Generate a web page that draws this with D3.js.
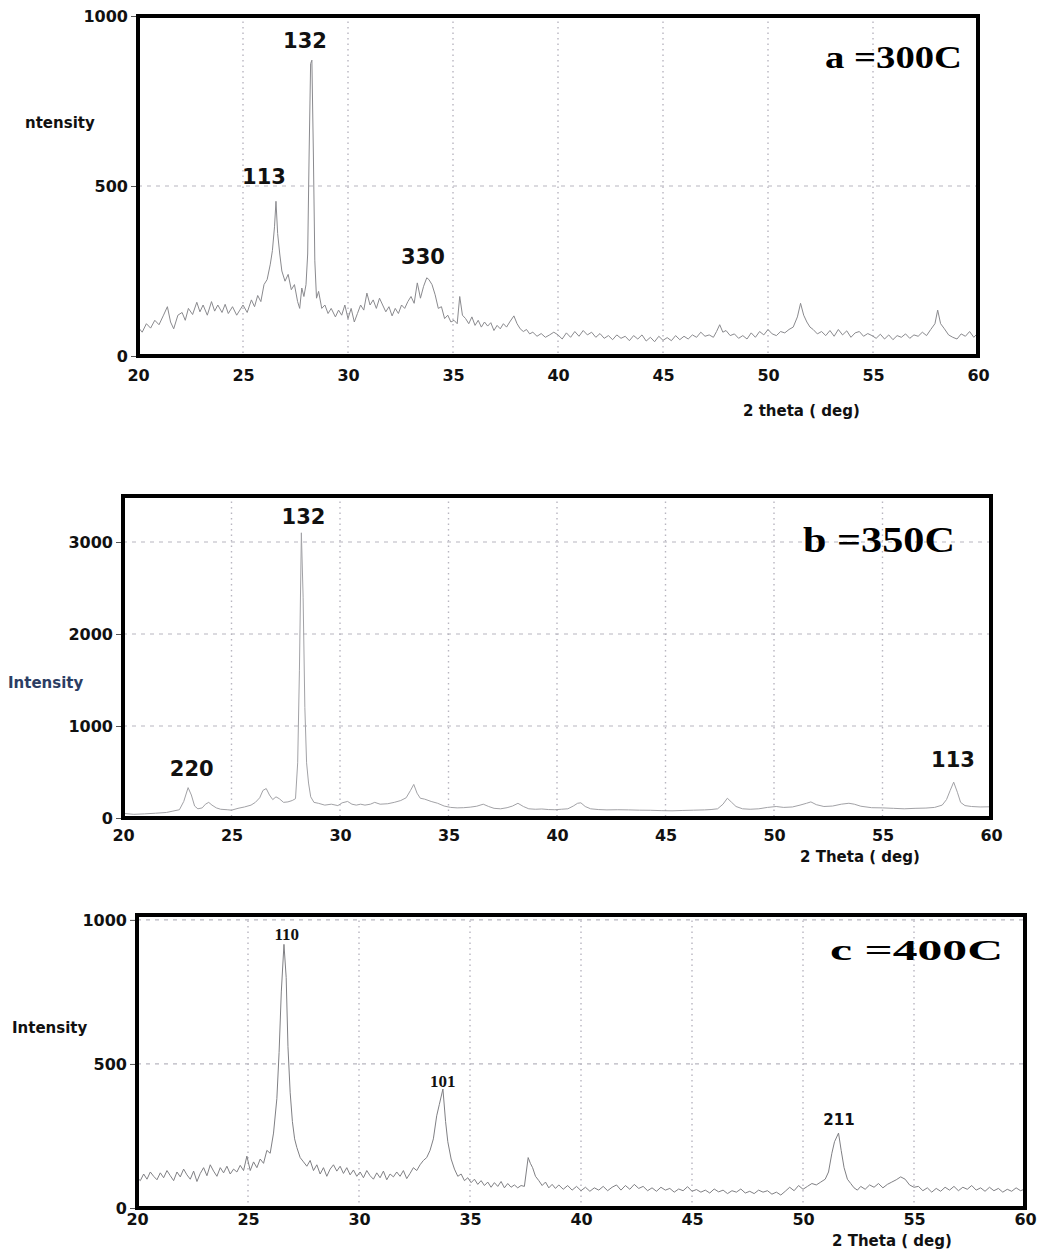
<!DOCTYPE html>
<html>
<head>
<meta charset="utf-8">
<script src="https://cdn.jsdelivr.net/npm/d3@7"></script>
<style>
  body { margin: 0; background: #fff; }
  text { font-family: "DejaVu Sans", sans-serif; }
</style>
</head>
<body>
<div id="chart"></div>
<script>
// x tick labels shared by the three scans
var twoThetaTicks = [20, 25, 30, 35, 40, 45, 50, 55, 60];

// scan a = 300C  [2theta, intensity]
var scanA = [
  [20.0,85],[20.2,70],[20.4,95],[20.6,82],[20.8,105],[21.0,92],[21.2,118],[21.4,145],[21.55,100],[21.7,80],
  [21.9,120],[22.1,128],[22.25,105],[22.4,140],[22.6,122],[22.8,158],[22.95,130],[23.1,150],[23.3,120],[23.5,160],
  [23.65,132],[23.8,150],[24.0,128],[24.15,152],[24.3,125],[24.5,145],[24.7,120],[24.85,135],[25.0,150],[25.2,128],
  [25.4,165],[25.55,145],[25.7,178],[25.85,160],[26.0,210],[26.15,225],[26.3,270],[26.4,310],[26.5,380],[26.57,455],
  [26.65,360],[26.75,300],[26.85,250],[27.0,220],[27.15,240],[27.3,195],[27.45,210],[27.6,160],[27.7,140],[27.8,200],
  [27.9,175],[28.0,210],[28.08,300],[28.15,600],[28.22,860],[28.28,870],[28.35,600],[28.42,280],[28.5,170],[28.6,190],
  [28.75,140],[28.9,150],[29.05,125],[29.2,140],[29.4,115],[29.55,135],[29.7,120],[29.85,150],[30.0,110],[30.15,140],
  [30.3,100],[30.45,125],[30.6,150],[30.75,135],[30.9,185],[31.05,150],[31.2,165],[31.35,140],[31.5,170],[31.65,150],
  [31.8,130],[31.95,145],[32.1,118],[32.25,140],[32.4,125],[32.55,150],[32.7,140],[32.85,160],[33.0,175],[33.15,155],
  [33.3,215],[33.45,170],[33.6,205],[33.75,230],[33.85,225],[34.0,210],[34.15,180],[34.3,140],[34.45,145],[34.6,110],
  [34.75,120],[34.9,100],[35.05,105],[35.2,95],[35.32,175],[35.45,120],[35.6,110],[35.75,95],[35.9,115],[36.05,90],
  [36.2,105],[36.35,85],[36.5,100],[36.65,88],[36.8,98],[36.95,75],[37.1,90],[37.25,80],[37.4,95],[37.55,85],
  [37.7,100],[37.9,118],[38.05,95],[38.2,80],[38.35,72],[38.5,78],[38.65,65],[38.8,70],[39.0,58],[39.2,66],
  [39.4,55],[39.6,62],[39.8,70],[40.0,62],[40.2,50],[40.4,68],[40.6,55],[40.8,72],[41.0,58],[41.2,75],
  [41.4,62],[41.6,70],[41.8,55],[42.0,66],[42.2,52],[42.4,60],[42.6,48],[42.8,62],[43.0,52],[43.2,58],
  [43.4,45],[43.6,60],[43.8,50],[44.0,62],[44.2,44],[44.4,55],[44.6,42],[44.8,58],[45.0,46],[45.2,54],
  [45.4,45],[45.6,60],[45.8,48],[46.0,58],[46.2,50],[46.4,62],[46.6,55],[46.8,70],[47.0,58],[47.2,62],
  [47.4,55],[47.55,72],[47.7,92],[47.85,70],[48.0,75],[48.2,60],[48.4,65],[48.6,52],[48.8,60],[49.0,50],
  [49.2,68],[49.4,55],[49.6,72],[49.8,62],[50.0,78],[50.2,65],[50.4,60],[50.6,72],[50.8,68],[51.0,78],
  [51.2,85],[51.4,115],[51.55,155],[51.7,120],[51.85,100],[52.0,85],[52.15,78],[52.35,65],[52.55,72],[52.75,60],
  [52.95,75],[53.15,58],[53.35,78],[53.55,62],[53.75,74],[53.95,55],[54.15,68],[54.35,72],[54.55,58],[54.75,66],
  [54.95,60],[55.15,52],[55.35,64],[55.55,50],[55.75,62],[55.95,48],[56.15,60],[56.35,55],[56.55,65],[56.75,52],
  [56.95,62],[57.15,58],[57.35,70],[57.55,60],[57.75,78],[57.95,95],[58.08,135],[58.22,95],[58.4,80],[58.6,62],
  [58.8,55],[59.0,50],[59.2,65],[59.4,58],[59.6,72],[59.8,55],[60.0,68]
];

// scan b = 350C
var scanB = [
  [20.0,50],[20.5,40],[21.0,45],[21.5,52],[22.0,60],[22.3,75],[22.6,90],[22.8,180],[23.0,330],[23.15,250],
  [23.3,130],[23.45,100],[23.65,110],[23.8,150],[23.95,170],[24.1,140],[24.3,110],[24.5,95],[24.8,90],[25.0,85],
  [25.3,105],[25.6,120],[25.9,140],[26.1,170],[26.3,220],[26.45,300],[26.6,320],[26.75,250],[26.9,200],[27.05,230],
  [27.2,210],[27.4,170],[27.6,175],[27.8,190],[27.95,210],[28.05,600],[28.13,1600],[28.22,3100],[28.3,2400],[28.38,1200],
  [28.46,600],[28.55,380],[28.65,230],[28.8,170],[29.0,160],[29.3,140],[29.6,150],[29.9,135],[30.1,165],[30.35,180],
  [30.55,150],[30.75,140],[30.95,150],[31.15,140],[31.4,150],[31.6,170],[31.85,150],[32.2,155],[32.5,170],[32.8,190],
  [33.05,220],[33.25,300],[33.4,365],[33.55,270],[33.7,215],[33.9,205],[34.2,180],[34.5,160],[34.8,130],[35.1,115],
  [35.4,110],[35.7,112],[36.0,118],[36.3,128],[36.6,150],[36.85,125],[37.1,105],[37.4,100],[37.7,112],[37.95,130],
  [38.2,160],[38.45,125],[38.7,100],[39.0,95],[39.3,98],[39.6,92],[39.9,90],[40.2,95],[40.5,100],[40.75,130],
  [40.95,160],[41.1,165],[41.3,125],[41.55,100],[41.9,92],[42.3,88],[42.8,90],[43.3,88],[43.8,85],[44.3,84],
  [44.8,80],[45.3,78],[45.8,82],[46.3,85],[46.8,88],[47.1,92],[47.4,100],[47.65,150],[47.85,215],[48.05,170],
  [48.25,125],[48.55,100],[48.9,95],[49.3,100],[49.7,115],[50.1,125],[50.45,115],[50.85,120],[51.2,140],[51.5,160],
  [51.7,175],[51.95,145],[52.3,125],[52.7,130],[53.1,150],[53.45,160],[53.7,150],[54.0,128],[54.5,112],[55.0,110],
  [55.5,105],[56.0,100],[56.5,105],[57.0,108],[57.4,115],[57.75,140],[57.95,200],[58.12,300],[58.28,390],[58.45,280],
  [58.6,170],[58.8,135],[59.1,125],[59.5,120],[60.0,122]
];

// scan c = 400C
var scanC = [
  [20.0,105],[20.15,95],[20.3,118],[20.45,100],[20.6,125],[20.75,110],[20.9,98],[21.05,122],[21.2,105],[21.35,130],
  [21.5,112],[21.65,95],[21.8,125],[21.95,108],[22.1,135],[22.25,115],[22.4,100],[22.55,128],[22.7,92],[22.85,120],
  [23.0,140],[23.15,112],[23.3,150],[23.45,128],[23.6,110],[23.75,140],[23.9,122],[24.05,145],[24.2,118],[24.35,135],
  [24.5,125],[24.65,148],[24.8,130],[24.95,180],[25.1,130],[25.25,160],[25.4,140],[25.55,170],[25.7,155],[25.85,200],
  [26.0,190],[26.15,260],[26.3,380],[26.4,540],[26.5,750],[26.62,915],[26.72,800],[26.8,560],[26.9,400],[27.0,300],
  [27.1,240],[27.2,210],[27.35,175],[27.5,160],[27.65,145],[27.8,165],[27.95,130],[28.1,150],[28.25,118],[28.4,140],
  [28.55,110],[28.7,135],[28.85,150],[29.0,128],[29.15,145],[29.3,120],[29.45,140],[29.6,115],[29.75,132],[29.9,110],
  [30.05,125],[30.2,105],[30.35,130],[30.5,112],[30.65,100],[30.8,122],[30.95,105],[31.1,128],[31.25,98],[31.4,118],
  [31.55,108],[31.7,125],[31.85,110],[32.0,130],[32.15,102],[32.3,120],[32.45,140],[32.6,130],[32.75,150],[32.9,165],
  [33.05,175],[33.2,200],[33.35,240],[33.5,320],[33.62,360],[33.78,413],[33.9,300],[34.0,230],[34.15,170],[34.3,135],
  [34.45,110],[34.6,118],[34.75,95],[34.9,105],[35.05,88],[35.2,100],[35.35,82],[35.5,95],[35.65,78],[35.8,90],
  [35.95,72],[36.1,88],[36.25,75],[36.4,92],[36.55,70],[36.7,85],[36.85,72],[37.0,80],[37.15,70],[37.3,78],
  [37.45,75],[37.62,175],[37.72,155],[37.82,140],[37.95,110],[38.1,95],[38.25,78],[38.4,90],[38.55,70],[38.7,82],
  [38.85,68],[39.0,80],[39.2,65],[39.4,78],[39.6,62],[39.8,75],[40.0,60],[40.2,72],[40.4,58],[40.6,70],
  [40.8,62],[41.0,75],[41.2,60],[41.4,72],[41.6,80],[41.8,62],[42.0,78],[42.2,65],[42.4,82],[42.6,68],
  [42.8,75],[43.0,60],[43.2,70],[43.4,58],[43.6,72],[43.8,62],[44.0,68],[44.2,55],[44.4,66],[44.6,60],
  [44.8,74],[45.0,58],[45.2,64],[45.4,55],[45.6,62],[45.8,52],[46.0,66],[46.2,56],[46.4,62],[46.6,50],
  [46.8,60],[47.0,55],[47.2,66],[47.4,52],[47.6,58],[47.8,50],[48.0,62],[48.2,55],[48.4,60],[48.6,48],
  [48.8,55],[49.0,45],[49.2,58],[49.4,72],[49.6,60],[49.8,78],[50.0,65],[50.2,75],[50.4,85],[50.6,80],
  [50.8,90],[51.0,100],[51.15,125],[51.3,190],[51.42,230],[51.6,260],[51.72,200],[51.85,140],[52.0,100],[52.15,85],
  [52.3,70],[52.45,62],[52.6,75],[52.8,65],[53.0,80],[53.2,72],[53.4,85],[53.6,70],[53.8,82],[54.0,90],
  [54.2,98],[54.4,108],[54.6,100],[54.8,80],[55.0,72],[55.2,75],[55.4,60],[55.6,70],[55.8,55],[56.0,68],
  [56.2,58],[56.4,72],[56.6,62],[56.8,75],[57.0,60],[57.2,72],[57.4,65],[57.6,78],[57.8,62],[58.0,70],
  [58.2,58],[58.4,72],[58.6,60],[58.8,68],[59.0,55],[59.2,65],[59.4,58],[59.6,70],[59.8,60],[60.0,66]
];

// y tick labels
var yTicksA = [0, 500, 1000];
var yTicksB = [0, 1000, 2000, 3000];
var yTicksC = [0, 500, 1000];

// peak labels [text, 2theta, intensity] where the label sits
var peaksA = [["132", 27.95, 906], ["113", 26.0, 506], ["330", 33.57, 270]];
var peaksB = [["132", 28.32, 3196], ["220", 23.17, 457], ["113", 58.25, 554]];
var peaksC = [["110", 26.75, 930], ["101", 33.77, 420], ["211", 51.62, 288]];

var width = 1037, height = 1253;

let svg = d3.select("#chart")
  .append("svg")
  .attr("width", width)
  .attr("height", height)
  .style("background", "#fff");

function drawPanel(p) {
  let x = d3.scaleLinear().domain([20, 60]).range([p.left, p.right]);
  let y = d3.scaleLinear().domain([0, p.yMax]).range([p.bottom, p.top]);
  let g = svg.append("g");

  // grid: dotted verticals, dashed horizontals
  g.selectAll(".vgrid")
    .data(twoThetaTicks.filter(d => d > 20 && d < 60))
    .enter()
    .append("line")
    .attr("x1", d => x(d)).attr("x2", d => x(d))
    .attr("y1", p.top).attr("y2", p.bottom)
    .attr("stroke", "#b8b6c0")
    .attr("stroke-width", 1.4)
    .attr("stroke-dasharray", "1.5,4");

  g.selectAll(".hgrid")
    .data(p.grid)
    .enter()
    .append("line")
    .attr("x1", p.left).attr("x2", p.right)
    .attr("y1", d => y(d)).attr("y2", d => y(d))
    .attr("stroke", "#b8b6c0")
    .attr("stroke-width", 1.2)
    .attr("stroke-dasharray", "4,5");

  // the scan
  let line = d3.line().x(d => x(d[0])).y(d => y(d[1]));
  g.append("path")
    .datum(p.data)
    .attr("d", line)
    .attr("fill", "none")
    .attr("stroke", p.lineColor)
    .attr("stroke-width", 1)
    .attr("stroke-linejoin", "round");

  // frame
  g.append("rect")
    .attr("x", p.left).attr("y", p.top)
    .attr("width", p.right - p.left).attr("height", p.bottom - p.top)
    .attr("fill", "none")
    .attr("stroke", "#000")
    .attr("stroke-width", 4);

  // axes
  let xAxis = g.append("g")
    .attr("transform", `translate(0, ${p.bottom})`)
    .call(d3.axisBottom(x).tickValues(twoThetaTicks).tickSize(0).tickPadding(p.xPad));
  let yAxis = g.append("g")
    .attr("transform", `translate(${p.left - 2}, 0)`)
    .call(d3.axisLeft(y).tickValues(p.yTicks).tickSize(5).tickPadding(3).tickFormat(d3.format("d")));
  [xAxis, yAxis].forEach(function(a) {
    a.select(".domain").remove();
    a.selectAll("line").attr("stroke", "#555");
    a.selectAll("text")
      .attr("fill", "#111")
      .style("font-family", "DejaVu Sans, sans-serif")
      .style("font-weight", "bold")
      .style("font-size", "16px");
  });

  // axis titles
  g.append("text")
    .attr("x", p.yTitle[0]).attr("y", p.yTitle[1])
    .attr("fill", p.yTitleColor)
    .style("font-weight", "bold").style("font-size", "15px")
    .text(p.yTitleText);
  g.append("text")
    .attr("x", p.xTitle[0]).attr("y", p.xTitle[1])
    .attr("fill", "#111")
    .style("font-weight", "bold").style("font-size", "15px")
    .text(p.xTitleText);

  // peak labels
  g.selectAll(".peak")
    .data(p.peaks)
    .enter()
    .append("text")
    .attr("x", d => x(d[1]))
    .attr("y", d => y(d[2]))
    .attr("text-anchor", "middle")
    .attr("fill", "#111")
    .style("font-family", (d, i) => p.peakSerif[i] ? "Liberation Serif, serif" : "DejaVu Sans, sans-serif")
    .style("font-weight", "bold")
    .style("font-size", (d, i) => p.peakSize[i] + "px")
    .text(d => d[0]);

  // temperature title
  g.append("text")
    .attr("x", p.title[0]).attr("y", p.title[1])
    .attr("textLength", p.title[2])
    .attr("lengthAdjust", "spacingAndGlyphs")
    .attr("fill", "#000")
    .style("font-family", "Liberation Serif, serif")
    .style("font-weight", "bold")
    .style("font-size", p.title[3] + "px")
    .text(p.titleText);
}

drawPanel({
  data: scanA, yTicks: yTicksA, grid: [500], peaks: peaksA,
  left: 138, right: 978, top: 16, bottom: 356, yMax: 1000, xPad: 14,
  lineColor: "#8a8a8e",
  yTitleText: "ntensity", yTitle: [25, 128], yTitleColor: "#111",
  xTitleText: "2 theta ( deg)", xTitle: [743, 416],
  peakSerif: [false, false, false], peakSize: [21, 21, 21],
  titleText: "a =300C", title: [825, 68, 137, 32]
});

drawPanel({
  data: scanB, yTicks: yTicksB, grid: [1000, 2000, 3000], peaks: peaksB,
  left: 123, right: 991, top: 496, bottom: 818, yMax: 3500, xPad: 12,
  lineColor: "#a2a2a6",
  yTitleText: "Intensity", yTitle: [8, 688], yTitleColor: "#2c3d63",
  xTitleText: "2 Theta ( deg)", xTitle: [800, 862],
  peakSerif: [false, false, false], peakSize: [21, 21, 21],
  titleText: "b =350C", title: [803, 552, 152, 36]
});

drawPanel({
  data: scanC, yTicks: yTicksC, grid: [500, 1000], peaks: peaksC,
  left: 137, right: 1025, top: 915, bottom: 1208, yMax: 1017, xPad: 6,
  lineColor: "#808084",
  yTitleText: "Intensity", yTitle: [12, 1033], yTitleColor: "#111",
  xTitleText: "2 Theta ( deg)", xTitle: [832, 1246],
  peakSerif: [true, true, false], peakSize: [17, 17, 15],
  titleText: "c =400C", title: [830, 960, 173, 30]
});
</script>
</body>
</html>
